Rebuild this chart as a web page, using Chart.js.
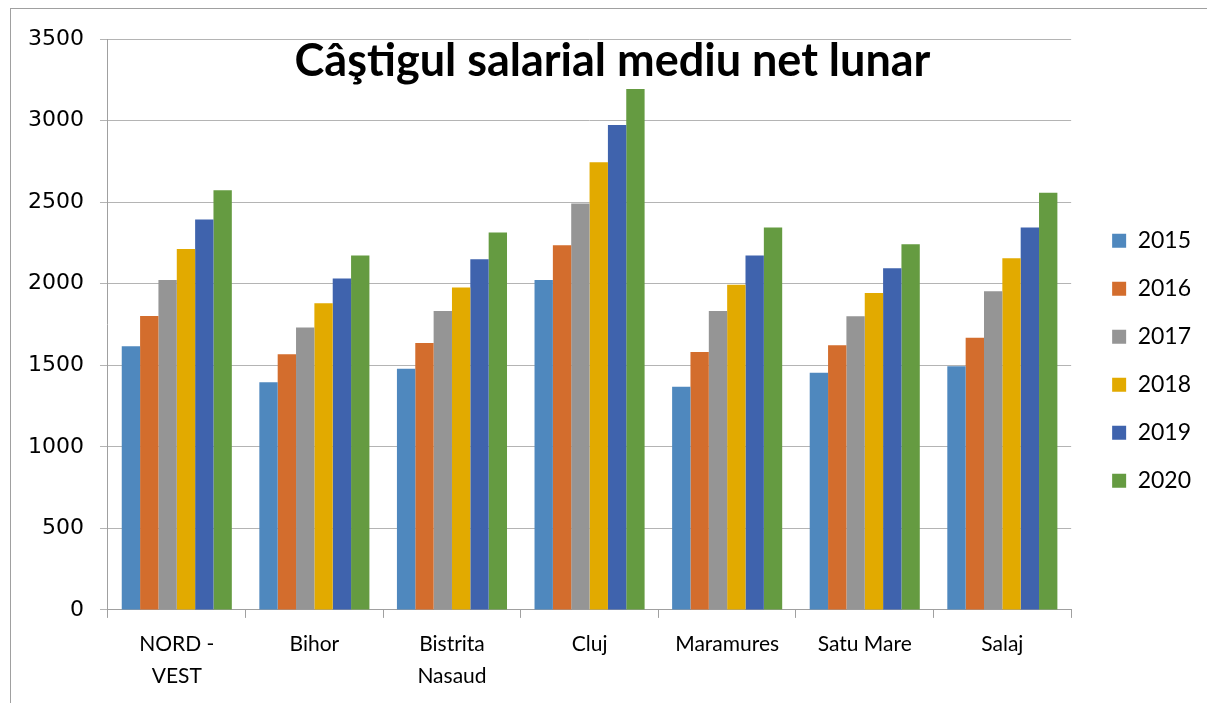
<!DOCTYPE html>
<html>
<head>
<meta charset="utf-8">
<script src="https://cdn.jsdelivr.net/npm/chart.js@4.4.1/dist/chart.umd.min.js"></script>
<style>
    html, body { margin: 0; padding: 0; background: #fff; }
    #wrap { position: relative; width: 1207px; height: 703px; }
    #frame { position: absolute; left: 10px; top: 8px; right: 0; bottom: 0;
             border-left: 1px solid #a0a0a0; border-top: 1px solid #a0a0a0; }
    #title { position: absolute; left: 0; width: 1225px; top: 32px; text-align: center;
             font: 700 45px Lato, sans-serif; color: #000; }
</style>
</head>
<body>
<div id="wrap">
    <div id="frame"></div>
    <canvas id="chart" width="1207" height="703"></canvas>
    <div id="title">Câştigul salarial mediu net lunar</div>
</div>
<script>
// judete din regiunea Nord-Vest
const categories = [['NORD -', 'VEST'], 'Bihor', ['Bistrita', 'Nasaud'], 'Cluj', 'Maramures', 'Satu Mare', 'Salaj'];
const years = ['2015', '2016', '2017', '2018', '2019', '2020'];

const values2015 = [1616, 1395, 1478, 2023, 1368, 1454, 1493];
const values2016 = [1802, 1567, 1636, 2236, 1581, 1622, 1669];
const values2017 = [2023, 1732, 1832, 2491, 1832, 1800, 1953];
const values2018 = [2213, 1880, 1976, 2745, 1994, 1943, 2156];
const values2019 = [2393, 2031, 2150, 2972, 2172, 2095, 2344];
const values2020 = [2573, 2172, 2313, 3193, 2344, 2242, 2557];

const yTicks = [0, 500, 1000, 1500, 2000, 2500, 3000, 3500];

const seriesValues = [values2015, values2016, values2017, values2018, values2019, values2020];
const colors = ['#4F88BE', '#D36D2D', '#959595', '#E2AA00', '#3F63AD', '#659B41'];

const datasets = years.map((year, i) => ({
    label: year,
    data: seriesValues[i],
    backgroundColor: colors[i],
    borderWidth: 0,
    categoryPercentage: 0.8,
    barPercentage: 1.0
}));

// nudge the legend a bit further right of the plot
const legendShift = {
    id: 'legendShift',
    afterLayout(chart) {
        const lg = chart.legend;
        if (lg) {
            lg.left += 16;
            lg.right += 16;
        }
    }
};

const ctx = document.getElementById('chart').getContext('2d');
new Chart(ctx, {
    type: 'bar',
    data: { labels: categories, datasets: datasets },
    plugins: [legendShift],
    options: {
        responsive: false,
        animation: false,
        layout: { padding: { left: 12, top: 39, right: 22, bottom: 0 } },
        plugins: {
            title: { display: false },
            tooltip: { enabled: false },
            legend: {
                position: 'right',
                fullSize: false,
                title: { display: true, text: '', padding: { top: 58, bottom: 0 } },
                labels: {
                    boxWidth: 14,
                    boxHeight: 14,
                    padding: 25,
                    color: '#000',
                    font: { family: 'Lato', size: 23 }
                }
            }
        },
        scales: {
            x: {
                grid: {
                    drawOnChartArea: false,
                    drawTicks: true,
                    tickLength: 8,
                    color: '#a0a0a0'
                },
                border: { color: '#a0a0a0', width: 1 },
                ticks: {
                    color: '#000',
                    padding: 10,
                    maxRotation: 0,
                    autoSkip: false,
                    font: { family: 'Lato', size: 21, lineHeight: 1.55 }
                }
            },
            y: {
                min: 0,
                max: 3500,
                afterBuildTicks(axis) {
                    axis.ticks = yTicks.map(v => ({ value: v }));
                },
                grid: {
                    color: '#b4b4b4',
                    tickLength: 8
                },
                border: { color: '#a0a0a0', width: 1 },
                ticks: {
                    color: '#000',
                    padding: 16,
                    font: { family: 'DejaVu Sans', size: 22 },
                    callback: v => String(v)
                }
            }
        }
    }
});
</script>
</body>
</html>
